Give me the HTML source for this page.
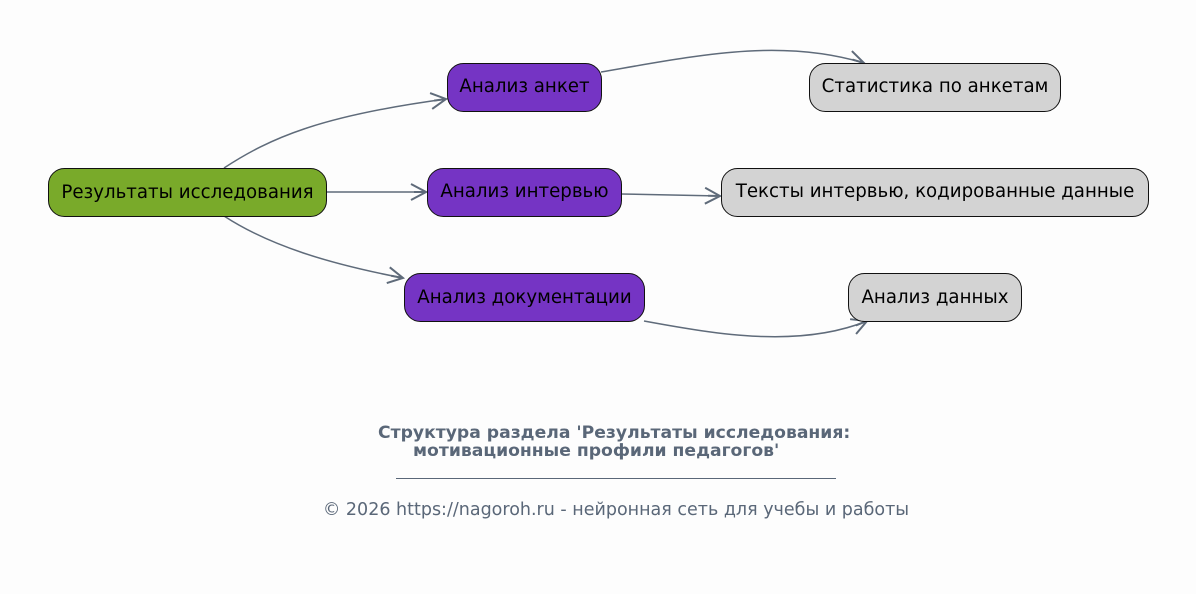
<!DOCTYPE html>
<html><head><meta charset="utf-8"><style>
html,body{margin:0;padding:0;background:#fdfdfd;}
svg{display:block;}
text{font-family:"DejaVu Sans","Liberation Sans",sans-serif;}
</style></head><body>
<svg width="1196" height="594" viewBox="0 0 1196 594" xmlns="http://www.w3.org/2000/svg">
<defs>
<marker id="a" viewBox="0 0 20 20" refX="18" refY="10" markerWidth="20" markerHeight="20" markerUnits="userSpaceOnUse" orient="auto">
<path d="M3,2 L18,10 L3,18 M18,10 L6,10" fill="none" stroke="#5f6b7a" stroke-width="2"/>
</marker>
</defs>
<rect width="1196" height="594" fill="#fdfdfd"/>
<g fill="none" stroke="#5f6b7a" stroke-width="1.5">
<path d="M224,168 C270,138 320,116 446,99" marker-end="url(#a)"/>
<path d="M326,192 L426,192" marker-end="url(#a)"/>
<path d="M224,216 C270,246 330,264 403,278" marker-end="url(#a)"/>
<path d="M601,72 C700,55 780,38 864,63" marker-end="url(#a)"/>
<path d="M621,194 L720,196" marker-end="url(#a)"/>
<path d="M644,321 C720,335 800,348 867,321" marker-end="url(#a)"/>
</g>
<g stroke="#111" stroke-width="1">
<rect x="48.5" y="168.5" width="278" height="48" rx="16" fill="#79aa2a"/>
<rect x="447.5" y="63.5" width="154" height="48" rx="16" fill="#7534c4"/>
<rect x="427.5" y="168.5" width="194" height="48" rx="16" fill="#7534c4"/>
<rect x="404.5" y="273.5" width="240" height="48" rx="16" fill="#7534c4"/>
<rect x="809.5" y="63.5" width="251" height="48" rx="16" fill="#d3d3d3"/>
<rect x="721.5" y="168.5" width="427" height="48" rx="16" fill="#d3d3d3"/>
<rect x="848.5" y="273.5" width="173" height="48" rx="16" fill="#d3d3d3"/>
</g>
<g font-size="18.2" fill="#000" text-anchor="middle">
<text x="187.5" y="198">Результаты исследования</text>
<text x="524.5" y="92">Анализ анкет</text>
<text x="524.5" y="197">Анализ интервью</text>
<text x="524.5" y="303">Анализ документации</text>
<text x="935" y="92">Статистика по анкетам</text>
<text x="935" y="197">Тексты интервью, кодированные данные</text>
<text x="935" y="303">Анализ данных</text>
</g>
<g fill="#5a6778" font-size="17.2" font-weight="bold">
<text x="378" y="438">Структура раздела 'Результаты исследования:</text>
<text x="413" y="456">мотивационные профили педагогов'</text>
</g>
<line x1="396" y1="478.5" x2="836" y2="478.5" stroke="#5a6778" stroke-width="1"/>
<text x="616" y="515" text-anchor="middle" font-size="17.5" fill="#5a6778">© 2026 https://nagoroh.ru - нейронная сеть для учебы и работы</text>
</svg>
</body></html>
